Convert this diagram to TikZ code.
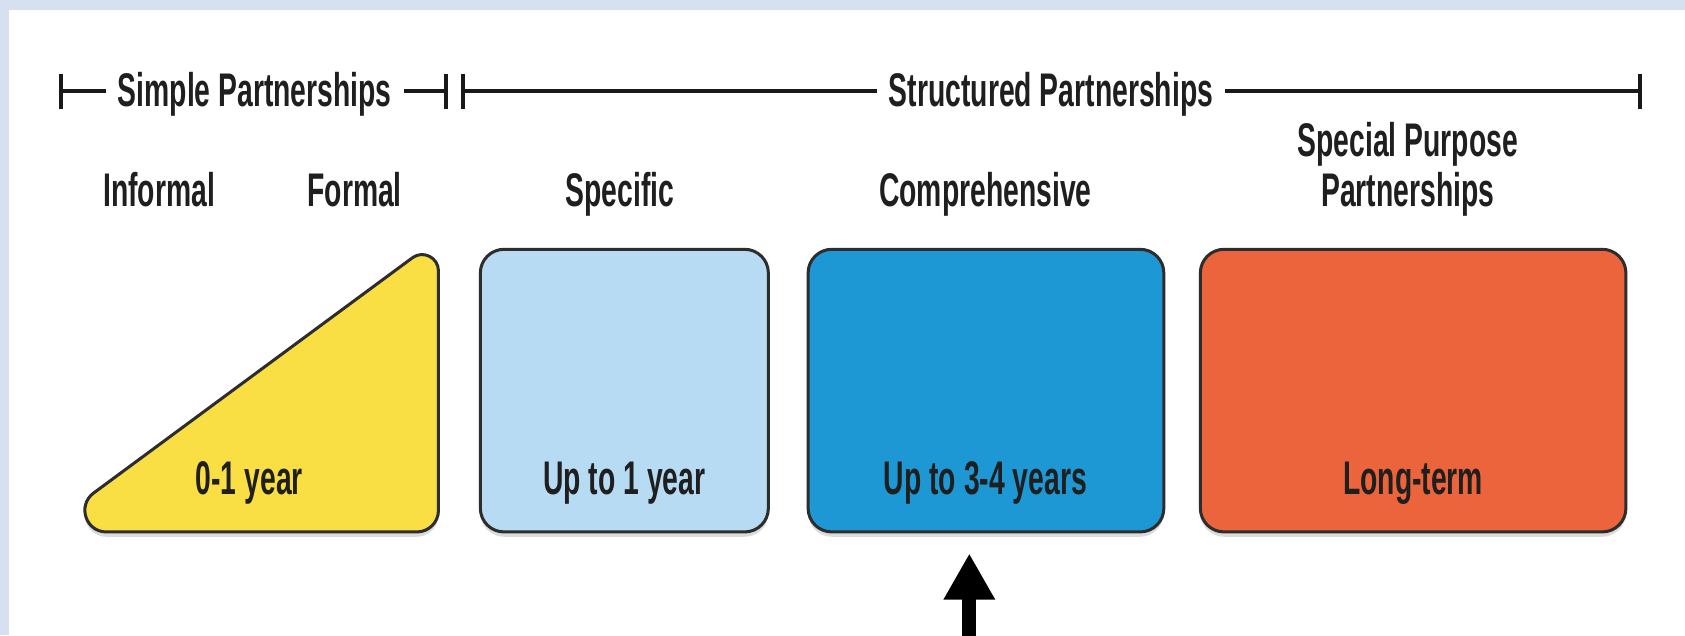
\documentclass[tikz,border=0pt]{standalone}
\usepackage{fontspec}
\setmainfont[FakeStretch=0.6]{Liberation Sans}
\usetikzlibrary{arrows.meta,shadows}
\definecolor{bgblue}{RGB}{214,224,240}
\definecolor{ylw}{RGB}{250,223,68}
\definecolor{liteblue}{RGB}{182,219,242}
\definecolor{midblue}{RGB}{30,152,212}
\definecolor{orng}{RGB}{236,100,59}
\definecolor{edge}{RGB}{45,45,45}
\tikzset{
	lbl/.style={font=\fontsize{25}{28}\selectfont\bfseries, text=black!88, inner ysep=0pt, inner xsep=0.22cm},
	card/.style={draw=edge, line width=1.6pt, rounded corners=0.44cm, drop shadow={opacity=0.28, shadow xshift=0pt, shadow yshift=-0.09cm}},
	brk/.style={line width=2pt, color=black!90},
	barend/.tip={Bar[width=0.66cm]}
}

\begin{document}
\begin{tikzpicture}[x=0.02cm,y=-0.02cm]
	\useasboundingbox (0,0) rectangle (1568,591);
	\fill[bgblue] (0,0) rectangle (1568,591);
	\fill[white] (8,9) rectangle (1568,591);
	% brackets
	\coordinate (sL) at (55,85);
	\coordinate (sR) at (417,85);
	\coordinate (tL) at (429,85);
	\coordinate (tR) at (1528,85);
	\node[lbl, anchor=base] (simple) at (237,99) {Simple Partnerships};
	\node[lbl, anchor=base] (struct) at (978,99) {Structured Partnerships};
	\draw[brk, barend-] (sL) -- (simple.west |- sL);
	\draw[brk, -barend] (simple.east |- sR) -- (sR);
	\draw[brk, barend-] (tL) -- (struct.west |- tL);
	\draw[brk, -barend] (struct.east |- tR) -- (tR);
	% kinds
	\node[lbl, anchor=base] (informal) at (148,192) {Informal};
	\node[lbl, anchor=base] (formal) at (330,192) {Formal};
	\node[lbl, anchor=base] (specific) at (577,192) {Specific};
	\node[lbl, anchor=base] (compre) at (917,192) {Comprehensive};
	\node[lbl, anchor=base] (special) at (1310,146) {Special Purpose};
	\node[lbl, anchor=base] (spartner) at (1310,192) {Partnerships};
	% cards
	\draw[card, sharp corners, fill=ylw] (99,495) -- (388,495) .. controls (399,495) and (408,486) .. (408,475)
		-- (408,252) .. controls (408,239.7) and (393.8,232.5) .. (383.9,239.8)
		-- (87.1,458.8) .. controls (71.6,470.3) and (79.7,495) .. (99,495) -- cycle;
	\draw[card, fill=liteblue] (447,232) rectangle (715,495);
	\draw[card, fill=midblue] (752,232) rectangle (1083,495);
	\draw[card, fill=orng] (1117,232) rectangle (1513,495);
	\node[lbl, anchor=base] (yr01) at (232,460) {0-1 year};
	\node[lbl, anchor=base] (yr1) at (581,460) {Up to 1 year};
	\node[lbl, anchor=base] (yr34) at (917,460) {Up to 3-4 years};
	\node[lbl, anchor=base] (longterm) at (1315,460) {Long-term};
	% arrow
	\coordinate (abase) at (902,600);
	\coordinate (atip) at (902,515);
	\draw[line width=0.26cm, -{Triangle[width=0.9cm,length=0.86cm]}] (abase) -- (atip);
\end{tikzpicture}
\end{document}
